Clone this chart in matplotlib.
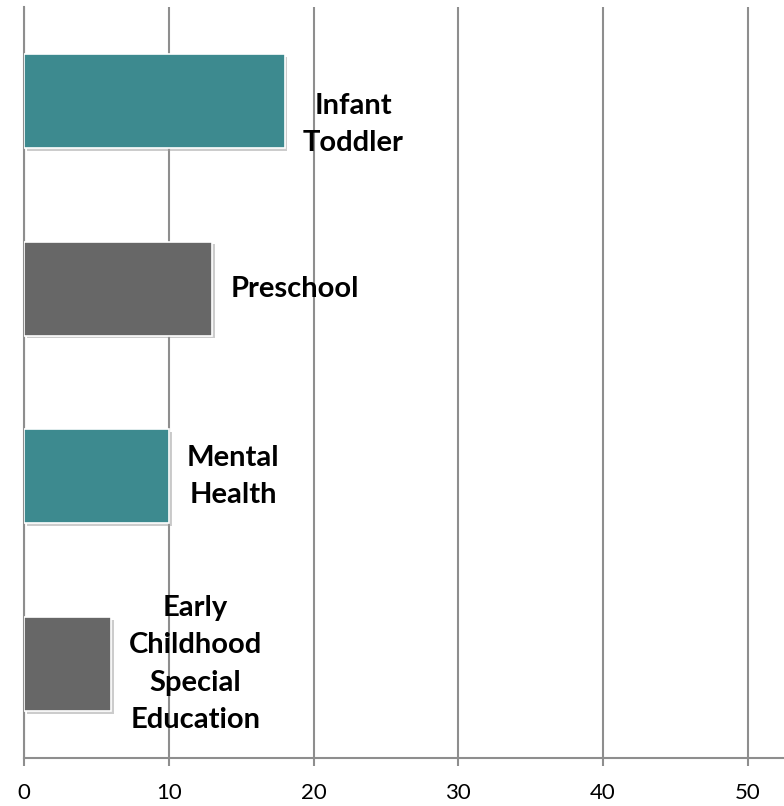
import matplotlib.pyplot as plt
import matplotlib.patheffects as pe
import numpy as np

# data
categories = ['Infant\nToddler', 'Preschool', 'Mental\nHealth',
              'Early\nChildhood\nSpecial\nEducation']
values = [18, 13, 10, 6]
bar_colors = ['#3D8A8F', '#676767', '#3D8A8F', '#676767']
x_ticks = [0, 10, 20, 30, 40, 50]

GRID_COLOR = '#8E8E8E'
plt.rcParams['font.family'] = ['Lato', 'DejaVu Sans']

fig = plt.figure(figsize=(7.84, 8.06), dpi=100)
ax = fig.add_axes([24 / 784, 1 - 758 / 806, 1 - 24 / 784, 751 / 806])

y = np.arange(len(categories))
bars = ax.barh(y, values, height=0.5, color=bar_colors, edgecolor='white',
               linewidth=1.2, zorder=3)
for b in bars:
    b.set_path_effects([pe.SimplePatchShadow(offset=(2, -2), shadow_rgbFace='#9a9a9a', alpha=0.5),
                        pe.Normal()])

# labels to the right of each bar
y_shift = [-17, 0, 0, 0]
for i, (lab, v) in enumerate(zip(categories, values)):
    ax.annotate(lab, xy=(v, y[i]), xytext=(13, y_shift[i]), textcoords='offset points',
                ha='left', va='center', multialignment='center',
                fontsize=21, fontweight='bold', color='black', linespacing=1.55,
                zorder=4)

ax.set_xlim(0, 52.5)
ax.set_ylim(3.5, -0.5)
ax.set_xticks(x_ticks)
ax.set_yticks([])

ax.grid(axis='x', color=GRID_COLOR, linewidth=1.5, zorder=0)
for s in ['top', 'right']:
    ax.spines[s].set_visible(False)
for s in ['left', 'bottom']:
    ax.spines[s].set_color(GRID_COLOR)
    ax.spines[s].set_linewidth(1.5)

ax.tick_params(axis='x', direction='out', length=6, width=1.5, color=GRID_COLOR,
               labelsize=16, pad=12, labelcolor='black')

plt.savefig('out.png', dpi=100)
